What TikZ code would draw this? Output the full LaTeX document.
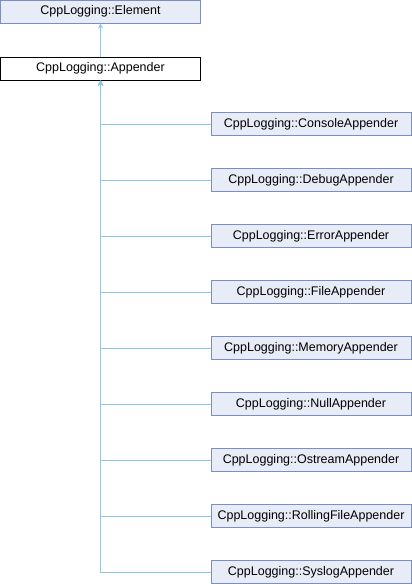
\documentclass[tikz,border=0pt]{standalone}
\usepackage{fontspec}
\setmainfont{Liberation Sans}
\usetikzlibrary{arrows.meta}
\definecolor{boxfill}{HTML}{E8ECF6}
\definecolor{boxline}{HTML}{7B8EC0}
\definecolor{inherit}{HTML}{8CC8EA}
\tikzset{
	classbox/.style={draw=boxline, fill=boxfill, line width=1pt, minimum width=200pt, minimum height=23pt, inner sep=0pt, font=\fontsize{12.5}{14}\selectfont},
	curbox/.style={classbox, draw=black, fill=white},
	inh/.style={draw=inherit, line width=1pt, {Stealth[length=5pt,width=5pt]}-}
}
\begin{document}
\begin{tikzpicture}[x=1pt, y=-1pt]
			\useasboundingbox (0,0) rectangle (412,584);
			\node[classbox] (elem) at (100.5,11.5) {CppLogging::Element};
			\node[curbox] (app) at (100.5,68.5) {CppLogging::Appender};
			\draw[inh] (elem.south) -- (app.north);
			\foreach \name [count=\i from 0] in {Console,Debug,Error,File,Memory,Null,Ostream,RollingFile,Syslog}{
				\node[classbox] (\name) at (311,124+\i*56) {CppLogging::\name Appender};
				\draw[inh] (app.south) |- (\name.west);
			}
		\end{tikzpicture}
\end{document}
